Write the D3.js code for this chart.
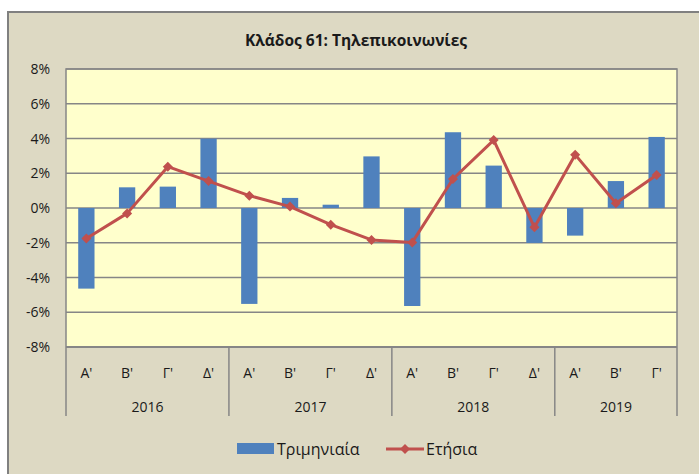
<!DOCTYPE html>
<html>
<head>
<meta charset="utf-8">
<script src="https://cdn.jsdelivr.net/npm/d3@7"></script>
<style>
  body { margin: 0; background: #fff; }
  text { font-family: "Open Sans", "Noto Sans", sans-serif; fill: #1a1a1a; }
</style>
</head>
<body>
<svg id="main" width="699" height="474"></svg>
<script>
// data
const quarters = ["Α'", "Β'", "Γ'", "Δ'", "Α'", "Β'", "Γ'", "Δ'", "Α'", "Β'", "Γ'", "Δ'", "Α'", "Β'", "Γ'"];
const years = ["2016", "2017", "2018", "2019"];
const yearSpan = [4, 4, 4, 3];
const quarterly = [-4.64, 1.19, 1.23, 3.99, -5.52, 0.58, 0.19, 2.97, -5.64, 4.36, 2.44, -2.01, -1.59, 1.55, 4.09];
const annual = [-1.76, -0.31, 2.38, 1.55, 0.71, 0.08, -0.96, -1.84, -1.98, 1.67, 3.91, -1.11, 3.07, 0.27, 1.90];
const yTicks = [-8, -6, -4, -2, 0, 2, 4, 6, 8];

const title = "Κλάδος 61: Τηλεπικοινωνίες";
const seriesNames = ["Τριμηνιαία", "Ετήσια"];

const size = {
    frame: {x: 8, y: 12, width: 700, height: 470},
    plot: {left: 66, right: 677, top: 69, bottom: 347}
};
const barColor = "#4f81bd";
const lineColor = "#c0504d";

const svg = d3.select("#main");

// outer chart frame
svg.append("rect")
    .attr("x", size.frame.x)
    .attr("y", size.frame.y)
    .attr("width", size.frame.width)
    .attr("height", size.frame.height)
    .attr("fill", "#ddd9c3")
    .attr("stroke", "#808080")
    .attr("stroke-width", 2);

svg.append("text")
    .attr("x", 356)
    .attr("y", 46)
    .attr("text-anchor", "middle")
    .attr("font-size", 15.5)
    .attr("font-weight", "bold")
    .text(title);

const idx = quarters.map((d, i) => i);
const xScale = d3.scaleBand(idx, [size.plot.left, size.plot.right]);
const yScale = d3.scaleLinear([-8, 8], [size.plot.bottom, size.plot.top]);
const step = xScale.step();
const xLeft = size.plot.left;
const center = i => xScale(i) + xScale.bandwidth() / 2;

// plot area
svg.append("rect")
    .attr("x", size.plot.left)
    .attr("y", size.plot.top)
    .attr("width", size.plot.right - size.plot.left)
    .attr("height", size.plot.bottom - size.plot.top)
    .attr("fill", "#ffffcc");

// gridlines
svg.append("g")
    .selectAll("line")
    .data(yTicks)
    .join("line")
    .attr("x1", size.plot.left)
    .attr("x2", size.plot.right)
    .attr("y1", d => yScale(d))
    .attr("y2", d => yScale(d))
    .attr("stroke", "#868686")
    .attr("stroke-width", 1.5);

// y axis labels
svg.append("g")
    .selectAll("text")
    .data(yTicks)
    .join("text")
    .attr("x", 50)
    .attr("y", d => yScale(d) + 5)
    .attr("text-anchor", "end")
    .attr("font-size", 14)
    .text(d => d + "%");

// plot border sides
svg.append("path")
    .attr("d", `M${size.plot.left},${size.plot.bottom}V${size.plot.top}H${size.plot.right}V${size.plot.bottom}`)
    .attr("fill", "none")
    .attr("stroke", "#868686")
    .attr("stroke-width", 1.5);

// bars
const barW = 16.3;
svg.append("g")
    .selectAll("rect")
    .data(quarterly)
    .join("rect")
    .attr("x", (d, i) => center(i) - barW / 2)
    .attr("y", d => yScale(Math.max(0, d)))
    .attr("width", barW)
    .attr("height", d => Math.abs(yScale(d) - yScale(0)))
    .attr("fill", barColor);

// line
const line = d3.line()
    .x((d, i) => center(i))
    .y(d => yScale(d));

svg.append("path")
    .attr("d", line(annual))
    .attr("fill", "none")
    .attr("stroke", lineColor)
    .attr("stroke-width", 3)
    .attr("stroke-linejoin", "round");

const diamond = d3.symbol(d3.symbolDiamond2, 64);
svg.append("g")
    .selectAll("path")
    .data(annual)
    .join("path")
    .attr("transform", (d, i) => `translate(${center(i)},${yScale(d)})`)
    .attr("d", diamond)
    .attr("fill", lineColor);

// category axis
const axisY = size.plot.bottom;
svg.append("line")
    .attr("x1", size.plot.left)
    .attr("x2", size.plot.right)
    .attr("y1", axisY)
    .attr("y2", axisY)
    .attr("stroke", "#868686")
    .attr("stroke-width", 2);

const bounds = [0];
yearSpan.forEach(n => bounds.push(bounds[bounds.length - 1] + n));

svg.append("g")
    .selectAll("line")
    .data(bounds)
    .join("line")
    .attr("x1", d => xLeft + step * d)
    .attr("x2", d => xLeft + step * d)
    .attr("y1", axisY)
    .attr("y2", 416)
    .attr("stroke", "#868686")
    .attr("stroke-width", 1.5);

svg.append("g")
    .selectAll("text")
    .data(quarters)
    .join("text")
    .attr("x", (d, i) => center(i))
    .attr("y", 378)
    .attr("text-anchor", "middle")
    .attr("font-size", 14)
    .text(d => d);

svg.append("g")
    .selectAll("text")
    .data(years)
    .join("text")
    .attr("x", (d, i) => xLeft + step * (bounds[i] + bounds[i + 1]) / 2)
    .attr("y", 412)
    .attr("text-anchor", "middle")
    .attr("font-size", 14)
    .text(d => d);

// legend
const legend = svg.append("g");
legend.append("rect")
    .attr("x", 237)
    .attr("y", 443)
    .attr("width", 37)
    .attr("height", 11)
    .attr("fill", barColor);
legend.append("text")
    .attr("x", 277)
    .attr("y", 455)
    .attr("font-size", 16)
    .text(seriesNames[0]);
legend.append("line")
    .attr("x1", 386)
    .attr("x2", 424)
    .attr("y1", 449)
    .attr("y2", 449)
    .attr("stroke", lineColor)
    .attr("stroke-width", 3);
legend.append("path")
    .attr("transform", "translate(405,449)")
    .attr("d", diamond)
    .attr("fill", lineColor);
legend.append("text")
    .attr("x", 426)
    .attr("y", 455)
    .attr("font-size", 16)
    .text(seriesNames[1]);
</script>
</body>
</html>
